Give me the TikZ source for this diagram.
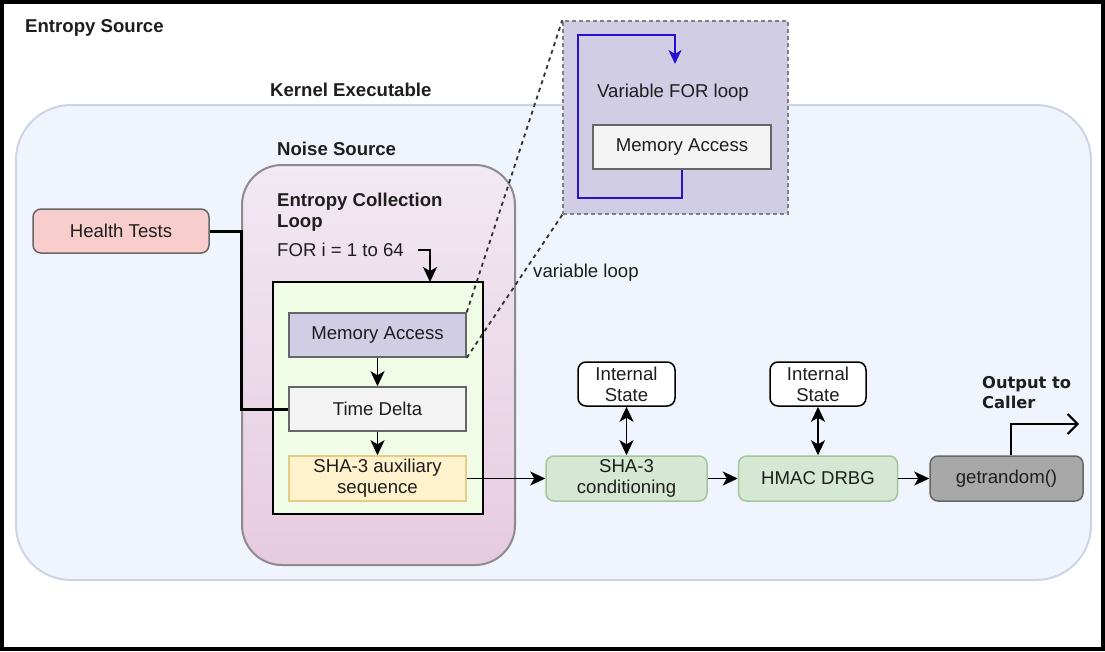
\documentclass[tikz,border=0pt]{standalone}
\usepackage{fontspec}
\setmainfont{Liberation Sans}
\newfontfamily\dejavu{DejaVu Sans}
\usetikzlibrary{arrows.meta}
\definecolor{kernfill}{HTML}{F0F4FC}
\definecolor{kerndraw}{HTML}{CCD4E6}
\definecolor{noisetop}{HTML}{F1E9F3}
\definecolor{noisebot}{HTML}{E7CBDF}
\definecolor{noisedraw}{HTML}{8C8C8C}
\definecolor{loopfill}{HTML}{F0FCE6}
\definecolor{purp}{HTML}{D0CDE4}
\definecolor{greyfill}{HTML}{F4F4F4}
\definecolor{darkline}{HTML}{666666}
\definecolor{yelfill}{HTML}{FFF2CC}
\definecolor{yeldraw}{HTML}{E3CC85}
\definecolor{redfill}{HTML}{F8CECC}
\definecolor{grnfill}{HTML}{D5E8D4}
\definecolor{grndraw}{HTML}{A3C799}
\definecolor{getfill}{HTML}{A8A8A8}
\definecolor{bluel}{HTML}{2A10CC}
\definecolor{txt}{HTML}{1E1E1E}
\newcommand\fs{\fontsize{18.6}{21}\selectfont}
\tikzset{
  box/.style={draw, line width=1.5pt, inner sep=0pt, align=center, font=\fs, text=txt},
  lbl/.style={inner sep=0pt, anchor=west, font=\fs, text=txt},
  blbl/.style={inner sep=0pt, anchor=west, font=\fs\bfseries, text=txt, align=left},
  arr/.style={line width=1.8pt, -{Stealth[length=15pt,width=14pt,inset=4pt]}},
  biarr/.style={line width=1.8pt, {Stealth[length=15pt,width=14pt,inset=4pt]}-{Stealth[length=15pt,width=14pt,inset=4pt]}},
  zoomline/.style={line width=1.8pt, draw=black!80, dash pattern=on 4pt off 4pt}
}
\begin{document}
\begin{tikzpicture}[x=1pt,y=-1pt]
\useasboundingbox (0,0) rectangle (1105,651);
\fill[white] (0,0) rectangle (1105,651);
\draw[line width=4pt] (2,2) rectangle (1103,649);

% containers
\node[draw=kerndraw, fill=kernfill, line width=2pt, rounded corners=55pt,
      minimum width=1075pt, minimum height=475pt, inner sep=0pt] (kern) at (553.5,342.5) {};
\node[draw=noisedraw, top color=noisetop, bottom color=noisebot, line width=2pt, rounded corners=40pt,
      minimum width=273pt, minimum height=400pt, inner sep=0pt] (noise) at (378.5,365) {};
\node[draw=black, fill=loopfill, line width=2pt,
      minimum width=210pt, minimum height=232pt, inner sep=0pt] (loop) at (378,398) {};

% labels
\node[blbl] (tes) at (25,28) {Entropy Source};
\node[blbl] (tke) at (270,90) {Kernel Executable};
\node[blbl] (tns) at (277,149) {Noise Source};
\node[blbl] (tecl) at (277,212.5) {Entropy Collection\\Loop};
\node[lbl] (tfor) at (277,250) {FOR i = 1 to 64};
\node[lbl] (tvl) at (533,273) {variable loop};

% inner boxes
\node[box, draw=darkline, fill=purp, minimum width=177pt, minimum height=44pt] (mem) at (377.5,335) {Memory Access};
\node[box, draw=darkline, fill=greyfill, minimum width=177pt, minimum height=44pt] (td) at (377.5,409) {Time Delta};
\node[box, draw=yeldraw, fill=yelfill, minimum width=177pt, minimum height=45pt] (aux) at (377.5,478.5) {SHA-3 auxiliary\\sequence};

\node[box, draw=darkline, fill=redfill, rounded corners=8pt, minimum width=176pt, minimum height=44pt] (ht) at (121,231) {Health Tests};

% popup
\node[draw=black!50, fill=purp, line width=1.5pt, dash pattern=on 4pt off 3pt,
      minimum width=225pt, minimum height=193pt, inner sep=0pt] (pop) at (675.5,117.5) {};
\node[lbl] (tvfl) at (597,93) {Variable FOR loop};
\node[box, draw=darkline, fill=greyfill, minimum width=178pt, minimum height=44pt] (pmem) at (682,147) {Memory Access};

% right chain
\node[box, draw=grndraw, fill=grnfill, rounded corners=8pt, minimum width=161pt, minimum height=45pt] (shac) at (626.5,478.5) {SHA-3\\conditioning};
\node[box, draw=grndraw, fill=grnfill, rounded corners=8pt, minimum width=159pt, minimum height=45pt] (hmac) at (818,478.5) {HMAC DRBG};
\node[box, draw=darkline, fill=getfill, rounded corners=8pt, minimum width=153pt, minimum height=45pt] (getr) at (1006.5,478.5) {getrandom()};
\node[box, draw=black, fill=white, rounded corners=8pt, minimum width=97pt, minimum height=44pt] (is1) at (626.5,384) {Internal\\State};
\node[box, draw=black, fill=white, rounded corners=8pt, minimum width=96pt, minimum height=44pt] (is2) at (818,384) {Internal\\State};
\node[inner sep=0pt, anchor=west, align=left, font=\dejavu\bfseries\fontsize{16.3}{20}\selectfont, text=txt] (toc) at (982,393) {Output to\\Caller};

% connectors
\coordinate (hb) at (241,231);
\draw[line width=3pt] (ht.east) -- (hb) |- (td.west);
\draw[arr] (mem) -- (td);
\draw[arr] (td) -- (aux);
\coordinate (fa) at (418,250);
\coordinate (fb) at (430,282);
\draw[arr, line width=1.5pt] (fa) -| (fb);
\draw[arr] (aux.east) -- (shac.west);
\draw[arr] (shac.east) -- (hmac.west);
\draw[arr] (hmac.east) -- (getr.west);
\draw[biarr] (is1.south) -- (shac.north);
\draw[biarr] (is2.south) -- (hmac.north);
\coordinate (oc) at (1079,424);
\draw[line width=2.5pt, -{Straight Barb[length=10pt,width=20pt,line width=2pt]}] ([xshift=4.5pt]getr.north) |- (oc);

% zoom lines
\draw[zoomline] (mem.north east) -- (pop.north west);
\draw[zoomline] (mem.south east) -- (pop.south west);

% blue loop
\coordinate (lb) at (578,198);
\coordinate (lt) at (578,35);
\coordinate (rt) at (675,35);
\coordinate (re) at (675,64);
\draw[draw=bluel, line width=2pt, -{Stealth[length=14pt,width=13pt,inset=4pt]}]
  (pmem.south) |- (lb) -- (lt) -- (rt) -- (re);
\end{tikzpicture}
\end{document}
